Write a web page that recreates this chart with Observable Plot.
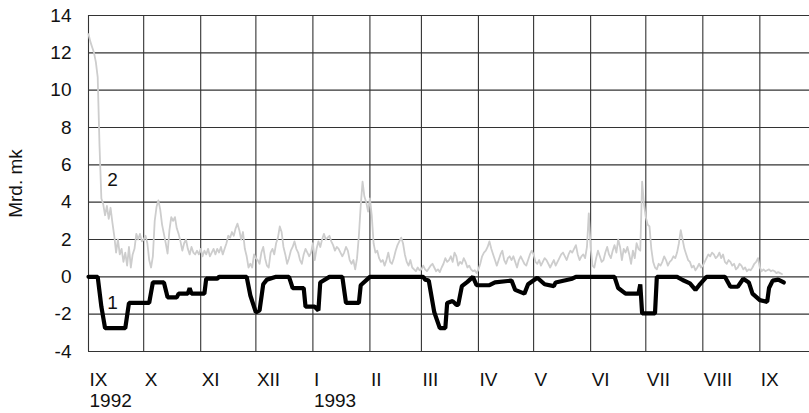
<!DOCTYPE html>
<html>
<head>
<meta charset="utf-8">
<script src="https://cdn.jsdelivr.net/npm/d3@7"></script>
<script src="https://cdn.jsdelivr.net/npm/@observablehq/plot@0.6"></script>
<style>
  html, body { margin: 0; padding: 0; background: #fff; }
  #chart svg { display: block; }
</style>
</head>
<body>
<div id="chart"></div>
<script>
// Observation period starts 1 September 1992; days counted from that date.
const startDate = "1992-09-01";
const endDate = "1993-09-28";

// Month boundaries (grid lines) and their roman-numeral labels
const monthStarts = ["1992-09-01","1992-10-01","1992-11-01","1992-12-01","1993-01-01","1993-02-01",
  "1993-03-01","1993-04-01","1993-05-01","1993-06-01","1993-07-01","1993-08-01","1993-09-01"];
const monthLabels = ["IX","X","XI","XII","I","II","III","IV","V","VI","VII","VIII","IX"];
const yearStarts = ["1992-09-01", "1993-01-01"];
const yearLabels = ["1992", "1993"];

// y ticks
const yTicks = [-4, -2, 0, 2, 4, 6, 8, 10, 12, 14];

// Series 1 (black, step-like): day offset and value (Mrd. mk)
const s1Days = [0,5,7,9,20,22,33,35,41,43,48,49,54,55,56,63,64,70,71,86,88,91,93,95,97,102,109,110,111,117,118,123,125,126,131,138,140,147,148,153,
  182,183,185,188,191,194,195,198,200,201,203,206,209,211,218,221,230,232,237,239,244,248,253,254,263,265,286,288,292,299,300,301,308,309,
  320,323,327,330,332,336,346,349,353,356,359,361,365,369,370,372,375,378];
const s1Values = [0,0,-1.6,-2.75,-2.75,-1.4,-1.4,-0.3,-0.3,-1.1,-1.1,-0.9,-0.9,-0.6,-0.9,-0.9,-0.1,-0.1,0,0,-1.0,-1.9,-1.8,-0.4,-0.15,0,0,-0.3,-0.6,-0.6,-1.6,-1.6,-1.8,-0.3,0,0,-1.4,-1.4,-0.45,0,
  0,-0.15,-0.2,-1.9,-2.75,-2.75,-1.4,-1.3,-1.5,-1.5,-0.5,-0.27,0,-0.45,-0.45,-0.3,-0.2,-0.7,-0.9,-0.4,-0.05,-0.4,-0.5,-0.3,-0.1,0,0,-0.6,-0.9,-0.9,-0.4,-1.96,-1.96,0,
  0,-0.17,-0.35,-0.7,-0.45,0,0,-0.53,-0.53,-0.1,-0.3,-0.9,-1.25,-1.34,-0.6,-0.2,-0.15,-0.3];

// Series 2 (light grey, daily values from 1 Sep 1992)
const s2Values = [
  13.0,12.6,12.3,12.0,11.5,10.7,7.0,4.2,3.9,3.3,3.8,3.1,3.7,2.9,2.2,1.3,2.0,1.2,1.5,0.8,
  1.3,0.6,1.6,0.5,1.2,1.5,2.3,2.0,2.3,1.9,2.0,2.2,1.8,0.9,0.5,1.1,3.0,3.75,4.1,3.6,
  2.8,2.3,1.8,1.25,2.5,3.2,3.0,3.2,2.6,2.3,1.9,1.4,1.8,2.0,1.5,1.2,1.6,1.3,1.2,1.4,
  1.2,1.5,1.1,1.4,1.2,1.5,1.1,1.3,1.5,1.2,1.5,1.3,1.6,1.2,1.5,1.8,2.2,2.1,2.4,2.2,
  2.6,2.85,2.5,2.0,2.4,1.5,1.1,0.5,0.7,0.5,1.2,1.0,0.9,0.7,1.3,1.6,1.0,0.6,0.5,1.3,
  1.5,1.2,1.8,2.1,2.7,2.4,1.6,1.2,0.7,1.0,1.4,1.6,1.9,1.5,1.3,0.9,0.7,1.2,1.5,1.3,
  1.1,1.3,1.8,0.9,1.5,1.9,1.6,2.0,2.3,2.0,2.1,2.2,1.9,1.7,1.4,1.6,1.5,1.3,1.1,1.3,
  1.6,1.4,0.9,0.7,0.9,0.4,1.0,2.2,3.8,5.1,4.3,4.0,3.5,4.2,3.3,1.8,1.3,1.4,1.0,0.8,
  0.9,0.6,0.9,1.3,0.8,0.7,1.0,1.4,1.7,1.9,2.1,1.8,1.2,0.8,0.6,0.9,0.5,0.4,0.3,0.5,
  0.35,0.4,0.6,0.4,0.3,0.45,0.6,0.7,0.5,0.3,0.4,0.25,0.5,0.7,1.0,0.8,0.9,1.1,0.8,1.3,
  1.1,0.6,0.8,0.7,1.0,0.8,0.5,0.6,0.4,0.3,0.35,0.2,0.4,0.7,1.1,1.3,1.4,1.6,1.9,1.5,
  1.2,0.9,0.6,0.9,1.2,1.4,0.9,0.7,1.0,1.1,0.9,1.1,0.8,0.5,0.9,1.1,0.9,0.7,0.6,0.9,
  1.2,1.4,1.2,0.8,0.7,0.9,0.6,0.8,1.0,0.9,0.7,0.5,0.7,0.9,0.6,0.8,1.0,1.2,1.3,1.1,
  0.9,1.2,1.4,1.3,1.5,1.7,1.2,0.9,1.1,1.2,1.0,1.6,3.4,1.6,0.6,0.5,1.0,1.4,1.1,0.8,
  0.9,1.3,1.6,1.2,1.0,1.4,1.7,1.3,2.0,1.6,0.9,1.5,1.3,1.6,1.2,0.7,1.4,1.0,1.8,1.5,
  1.4,5.1,3.9,3.2,2.8,2.7,1.5,0.8,0.5,0.4,0.7,0.6,0.8,1.1,0.9,0.6,0.8,0.9,1.1,1.0,
  1.3,1.8,2.5,2.0,1.5,1.2,0.9,0.8,0.5,0.6,0.35,0.5,0.7,0.5,0.6,0.8,1.0,1.2,1.1,1.3,
  1.2,1.0,1.1,1.3,1.0,1.2,0.8,0.7,0.9,0.8,0.6,0.7,0.4,0.5,0.7,0.6,0.4,0.5,0.3,0.4,
  0.35,0.5,0.7,0.8,1.0,0.5,0.3,0.4,0.3,0.35,0.4,0.3,0.35,0.3,0.2,0.25,0.2,0.15
];

// Curve labels placed next to each curve (day offset, value)
const curveNames = ["1", "2"];
const curveLabelDays = [13, 13];
const curveLabelValues = [-1.4, 5.2];

const DAY = 864e5;
const t0 = new Date(startDate + "T00:00:00Z").getTime();
const dayToDate = d => new Date(t0 + d * DAY);
const iso = s => new Date(s + "T00:00:00Z");

const s1 = s1Days.map((d, i) => ({date: dayToDate(d), value: s1Values[i]}));
const s2 = s2Values.map((v, i) => ({date: dayToDate(i), value: v}));
const months = monthStarts.map((m, i) => ({date: iso(m), label: monthLabels[i]}));
const years = yearStarts.map((m, i) => ({date: iso(m), label: yearLabels[i]}));
const curveLabels = curveNames.map((n, i) => ({name: n, date: dayToDate(curveLabelDays[i]), value: curveLabelValues[i]}));

const font = "'Liberation Sans', Arial, Helvetica, sans-serif";

const chart = Plot.plot({
  width: 809,
  height: 413,
  marginLeft: 88,
  marginRight: 0,
  marginTop: 15,
  marginBottom: 62,
  style: {fontFamily: font, fontSize: "19px", color: "#111", background: "#fff"},
  x: {type: "utc", domain: [iso(startDate), iso(endDate)], axis: null},
  y: {domain: [-4, 14], ticks: yTicks, tickSize: 0, tickPadding: 17, tickFormat: d => String(d),
      label: "Mrd. mk", labelAnchor: "center", labelOffset: 80, labelArrow: "none"},
  marks: [
    Plot.ruleY(yTicks, {stroke: "#333", strokeWidth: 1.1}),
    Plot.ruleX(months, {x: "date", stroke: "#333", strokeWidth: 1.1}),
    Plot.line(s2, {x: "date", y: "value", stroke: "#cdcdcd", strokeWidth: 1.8}),
    Plot.line(s1, {x: "date", y: "value", stroke: "#000", strokeWidth: 4.2, strokeLinejoin: "miter"}),
    Plot.text(curveLabels, {x: "date", y: "value", text: "name", fontSize: 19, fill: "#111"}),
    Plot.text(months, {x: "date", text: "label", frameAnchor: "bottom", textAnchor: "start", lineAnchor: "top", dx: 1, dy: 21, fontSize: 19, fill: "#111"}),
    Plot.text(years, {x: "date", text: "label", frameAnchor: "bottom", textAnchor: "start", lineAnchor: "top", dx: 1, dy: 42, fontSize: 19, fill: "#111"})
  ]
});
document.getElementById("chart").appendChild(chart);
</script>
</body>
</html>
